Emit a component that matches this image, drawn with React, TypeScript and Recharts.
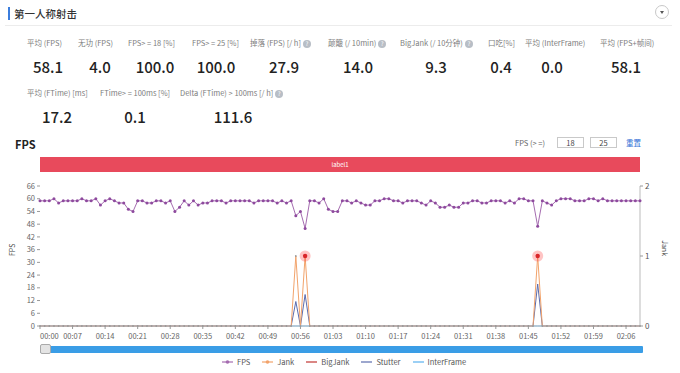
import React from "react";
import { LineChart, Line, XAxis, YAxis } from "recharts";

// FPS per second (130 samples, 00:00 – 02:09)
const FPS = [
  59, 59, 59, 60, 58, 59, 59, 59, 59, 60, 59, 59, 60, 57, 59, 60, 59, 58, 58, 55,
  54, 59, 59, 58, 58, 59, 59, 58, 59, 54, 56, 59, 57, 59, 57, 58, 58, 59, 59, 59,
  58, 59, 59, 59, 59, 59, 58, 59, 59, 59, 59, 58, 59, 58, 59, 52, 54, 46, 59, 59,
  58, 60, 55, 54, 54, 59, 59, 58, 59, 58, 57, 57, 59, 59, 60, 60, 59, 59, 58, 59,
  59, 59, 58, 57, 59, 58, 56, 56, 57, 56, 56, 58, 58, 59, 59, 58, 58, 59, 59, 59,
  58, 59, 58, 60, 60, 59, 59, 47, 59, 58, 57, 59, 60, 60, 60, 59, 59, 59, 60, 60,
  59, 60, 59, 59, 59, 59, 59, 59, 59, 59,
];

// jank-type events (second index -> value on the right axis), zero elsewhere
const JANK_EVENTS: Record<number, number> = { 55: 1, 57: 1, 107: 1 };
const BIGJANK_EVENTS: Record<number, number> = { 57: 1, 107: 1 };
const STUTTER_EVENTS: Record<number, number> = { 55: 0.35, 57: 0.45, 107: 0.6 };
const INTERFRAME_EVENTS: Record<number, number> = {};

const X_TICKS = [0, 7, 14, 21, 28, 35, 42, 49, 56, 63, 70, 77, 84, 91, 98, 105, 112, 119, 126];
const FPS_TICKS = [0, 6, 12, 18, 24, 30, 36, 42, 48, 54, 60, 66];
const JANK_TICKS = [0, 1, 2];

const ROW1 = [
  { label: "平均 (FPS)", value: "58.1", lx: 27, vx: 48 },
  { label: "无功 (FPS)", value: "4.0", lx: 78, vx: 100 },
  { label: "FPS> = 18 [%]", value: "100.0", lx: 128, vx: 155 },
  { label: "FPS> = 25 [%]", value: "100.0", lx: 192, vx: 216 },
  { label: "掉落 (FPS) [/ h]", value: "27.9", lx: 250, vx: 284, help: true },
  { label: "颠簸 (/ 10min)", value: "14.0", lx: 328, vx: 358, help: true },
  { label: "BigJank (/ 10分钟)", value: "9.3", lx: 400, vx: 436, help: true },
  { label: "口吃[%]", value: "0.4", lx: 488, vx: 501 },
  { label: "平均 (InterFrame)", value: "0.0", lx: 525, vx: 552 },
  { label: "平均 (FPS+帧间)", value: "58.1", lx: 600, vx: 626 },
];
const ROW2 = [
  { label: "平均 (FTime) [ms]", value: "17.2", lx: 27, vx: 57 },
  { label: "FTime> = 100ms [%]", value: "0.1", lx: 100, vx: 135 },
  { label: "Delta (FTime) > 100ms [/ h]", value: "111.6", lx: 180, vx: 233, help: true },
];

const COLORS = {
  fps: "#a56cb0",
  fpsDot: "#8e4a9e",
  jank: "#f2a36b",
  bigJank: "#c23531",
  stutter: "#5b6cae",
  interFrame: "#5ab1ef",
};

const LEGEND = [
  { name: "FPS", color: COLORS.fps, dot: true },
  { name: "Jank", color: COLORS.jank, dot: true },
  { name: "BigJank", color: COLORS.bigJank },
  { name: "Stutter", color: COLORS.stutter },
  { name: "InterFrame", color: COLORS.interFrame },
];

const data = FPS.map((fps, i) => ({
  t: i,
  fps,
  jank: JANK_EVENTS[i] ?? 0,
  bigJank: BIGJANK_EVENTS[i] ?? null,
  stutter: STUTTER_EVENTS[i] ?? 0,
  interFrame: INTERFRAME_EVENTS[i] ?? 0,
}));

const FONT = '"Noto Sans CJK SC", "Noto Sans", sans-serif';

const fmtTime = (s: number) =>
  `${String(Math.floor(s / 60)).padStart(2, "0")}:${String(s % 60).padStart(2, "0")}`;

function TimeTick(props: any) {
  const { x, y, payload, index } = props;
  return (
    <text
      x={x}
      y={y}
      dy={8}
      textAnchor={index === 0 ? "start" : "middle"}
      fontSize={7.5}
      fill="#666"
      fontFamily={FONT}
    >
      {fmtTime(payload.value)}
    </text>
  );
}

function BigJankDot(props: any) {
  const { cx, cy, value } = props;
  if (value == null || cy == null) return <g />;
  return (
    <g>
      <circle cx={cx} cy={cy} r={5.5} fill="#ff3b3b" opacity={0.3} />
      <circle cx={cx} cy={cy} r={2.2} fill="#d9262a" />
    </g>
  );
}

function Help() {
  return (
    <span
      style={{
        display: "inline-block",
        width: 8,
        height: 8,
        borderRadius: 4,
        background: "#b8bec6",
        color: "#fff",
        fontSize: 6,
        lineHeight: "8px",
        textAlign: "center",
        marginLeft: 2,
        verticalAlign: "middle",
      }}
    >
      ?
    </span>
  );
}

function Metric({ m, ly, vy }: { m: any; ly: number; vy: number }) {
  return (
    <>
      <div
        style={{
          position: "absolute",
          left: m.lx,
          top: ly,
          fontSize: 7.5,
          color: "#7d7d7d",
          whiteSpace: "nowrap",
          lineHeight: "10px",
        }}
      >
        {m.label}
        {m.help && <Help />}
      </div>
      <div
        style={{
          position: "absolute",
          left: m.vx,
          top: vy,
          transform: "translateX(-50%)",
          fontSize: 15,
          fontWeight: 500,
          color: "#222",
          lineHeight: "18px",
          whiteSpace: "nowrap",
        }}
      >
        {m.value}
      </div>
    </>
  );
}

export default function App() {
  return (
    <div
      style={{
        position: "absolute",
        left: 0,
        top: 0,
        width: 680,
        height: 373,
        background: "#fff",
        fontFamily: FONT,
        overflow: "hidden",
      }}
    >
      {/* section header */}
      <div style={{ position: "absolute", left: 8, top: 7, width: 2, height: 13, background: "#3b7ddd" }} />
      <div style={{ position: "absolute", left: 14, top: 6, fontSize: 10.5, fontWeight: 500, color: "#333", lineHeight: "15px" }}>
        第一人称射击
      </div>
      <div
        style={{
          position: "absolute",
          left: 655,
          top: 5,
          width: 14,
          height: 14,
          borderRadius: 8,
          border: "1px solid #c8c8c8",
          boxSizing: "border-box",
        }}
      >
        <div
          style={{
            position: "absolute",
            left: 4,
            top: 5,
            width: 0,
            height: 0,
            borderLeft: "2.5px solid transparent",
            borderRight: "2.5px solid transparent",
            borderTop: "3px solid #555",
          }}
        />
      </div>
      <div style={{ position: "absolute", left: 5, top: 25, width: 667, height: 1, background: "#ececec" }} />

      {ROW1.map((m) => (
        <Metric key={m.label} m={m} ly={38} vy={58} />
      ))}
      {ROW2.map((m) => (
        <Metric key={m.label} m={m} ly={88} vy={108} />
      ))}

      {/* chart header */}
      <div style={{ position: "absolute", left: 15, top: 137, fontSize: 11, fontWeight: 700, color: "#222", lineHeight: "14px" }}>
        FPS
      </div>
      <div style={{ position: "absolute", left: 515, top: 138, fontSize: 7.5, color: "#666", lineHeight: "10px" }}>
        FPS (&gt; =)
      </div>
      {["18", "25"].map((v, i) => (
        <div
          key={v}
          style={{
            position: "absolute",
            left: 557 + i * 33,
            top: 137,
            width: 27,
            height: 11,
            border: "1px solid #c9c9c9",
            boxSizing: "border-box",
            fontSize: 7.5,
            lineHeight: "9px",
            textAlign: "center",
            color: "#444",
          }}
        >
          {v}
        </div>
      ))}
      <div style={{ position: "absolute", left: 626, top: 137, fontSize: 7.5, color: "#2f6fd6", lineHeight: "11px" }}>
        重置
      </div>

      {/* label band */}
      <div
        style={{
          position: "absolute",
          left: 40,
          top: 157,
          width: 600,
          height: 15,
          background: "#e84a5c",
          color: "#fff",
          fontSize: 6,
          lineHeight: "15px",
          textAlign: "center",
        }}
      >
        label1
      </div>

      <div style={{ position: "absolute", left: 0, top: 150 }}>
        <LineChart width={680} height={200} data={data} margin={{ top: 36, right: 0, bottom: 0, left: 0 }}>
          <XAxis
            dataKey="t"
            type="number"
            domain={[0, 129]}
            ticks={X_TICKS}
            interval={0}
            height={24}
            tick={<TimeTick />}
            tickSize={3}
            axisLine={{ stroke: "#bbb" }}
            tickLine={{ stroke: "#999" }}
          />
          <YAxis
            yAxisId="fps"
            orientation="left"
            width={40}
            domain={[0, 66]}
            ticks={FPS_TICKS}
            interval={0}
            axisLine={false}
            tickSize={3}
            tickLine={{ stroke: "#999" }}
            tick={{ fontSize: 7.5, fill: "#666", fontFamily: FONT }}
            label={{ value: "FPS", angle: -90, position: "insideLeft", offset: 13, fontSize: 7, fill: "#444", fontFamily: FONT }}
          />
          <YAxis
            yAxisId="jank"
            orientation="right"
            width={40}
            domain={[0, 2]}
            ticks={JANK_TICKS}
            interval={0}
            axisLine={{ stroke: "#bbb" }}
            tickSize={3}
            tickLine={{ stroke: "#999" }}
            tick={{ fontSize: 8, fill: "#555", fontFamily: FONT }}
            label={{ value: "Jank", angle: 90, position: "insideRight", offset: 16, fontSize: 7, fill: "#444", fontFamily: FONT }}
          />
          <Line
            yAxisId="jank"
            dataKey="interFrame"
            stroke={COLORS.interFrame}
            strokeWidth={1}
            dot={false}
            isAnimationActive={false}
          />
          <Line
            yAxisId="jank"
            dataKey="stutter"
            stroke={COLORS.stutter}
            strokeWidth={1}
            dot={false}
            isAnimationActive={false}
          />
          <Line
            yAxisId="jank"
            dataKey="jank"
            stroke={COLORS.jank}
            strokeWidth={1}
            dot={{ r: 0.9, fill: "#9a9a9a", stroke: "none" }}
            isAnimationActive={false}
          />
          <Line
            yAxisId="jank"
            dataKey="bigJank"
            stroke={COLORS.bigJank}
            strokeWidth={1}
            dot={<BigJankDot />}
            connectNulls={false}
            isAnimationActive={false}
          />
          <Line
            yAxisId="fps"
            dataKey="fps"
            stroke={COLORS.fps}
            strokeWidth={1}
            dot={{ r: 1.5, fill: COLORS.fpsDot, stroke: "none" }}
            isAnimationActive={false}
          />
        </LineChart>
      </div>

      {/* zoom slider */}
      <div style={{ position: "absolute", left: 40, top: 346, width: 603, height: 7, background: "#3a9de6", borderRadius: 1 }} />
      <div
        style={{
          position: "absolute",
          left: 40,
          top: 344,
          width: 11,
          height: 10,
          background: "#e4e4e4",
          border: "1px solid #aaa",
          borderRadius: 2,
          boxSizing: "border-box",
        }}
      />

      {/* legend */}
      <div style={{ position: "absolute", left: 222, top: 357, display: "flex", gap: 12, fontSize: 7.5, color: "#555", lineHeight: "10px" }}>
        {LEGEND.map((l) => (
          <div key={l.name} style={{ display: "flex", alignItems: "center", gap: 4 }}>
            <svg width={11} height={6}>
              <line x1={0} y1={3} x2={11} y2={3} stroke={l.color} strokeWidth={1.2} />
              {l.dot && <circle cx={5.5} cy={3} r={1.8} fill={l.color} />}
            </svg>
            <span>{l.name}</span>
          </div>
        ))}
      </div>
    </div>
  );
}
